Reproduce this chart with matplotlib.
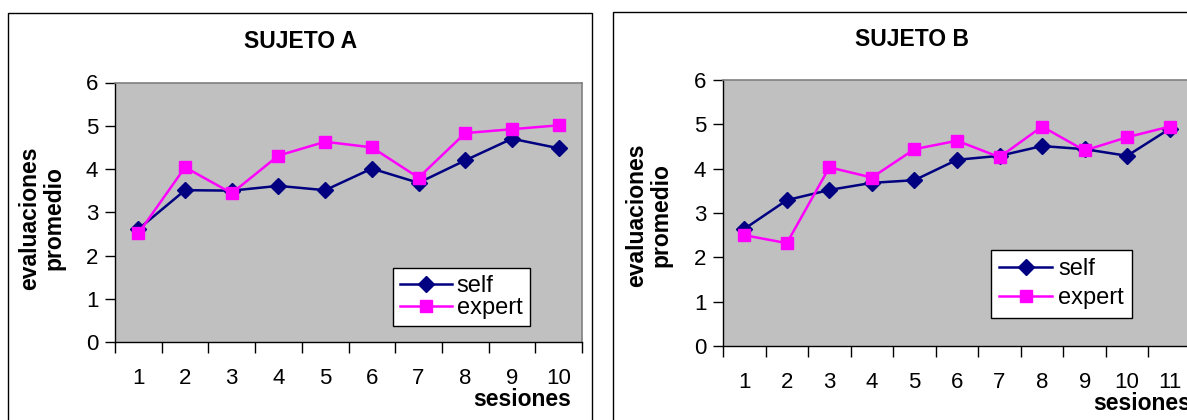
import matplotlib
matplotlib.use("Agg")
import matplotlib.pyplot as plt
from matplotlib.patches import Rectangle

plt.rcParams['font.family'] = ['Liberation Sans', 'DejaVu Sans']

# ---- data ----
sessions_a = [1, 2, 3, 4, 5, 6, 7, 8, 9, 10]
self_a = [2.61, 3.51, 3.50, 3.61, 3.51, 4.01, 3.68, 4.20, 4.70, 4.48]
expert_a = [2.51, 4.04, 3.44, 4.31, 4.63, 4.50, 3.80, 4.83, 4.92, 5.01]

sessions_b = [1, 2, 3, 4, 5, 6, 7, 8, 9, 10, 11]
self_b = [2.64, 3.29, 3.52, 3.68, 3.74, 4.20, 4.29, 4.51, 4.44, 4.29, 4.90]
expert_b = [2.50, 2.32, 4.03, 3.80, 4.44, 4.63, 4.26, 4.95, 4.41, 4.71, 4.95]

y_ticks = [0, 1, 2, 3, 4, 5, 6]
titles = ["SUJETO A", "SUJETO B"]
series_names = ["self", "expert"]
ylabel = "evaluaciones\npromedio"
xlabel = "sesiones"

W, H = 1187, 420
fig = plt.figure(figsize=(W / 100, H / 100), dpi=100)
fig.patch.set_facecolor('white')

def fx(px):
    return px / W

def fy(py):
    return 1 - py / H

# outer chart frames
fig.add_artist(Rectangle((fx(8), -0.1), fx(592) - fx(8), fy(13) + 0.1,
                         transform=fig.transFigure, fill=False,
                         edgecolor='black', lw=1.0))
fig.add_artist(Rectangle((fx(613), -0.1), 1.0, fy(12) + 0.1,
                         transform=fig.transFigure, fill=False,
                         edgecolor='black', lw=1.0))

TICK_FS = 16
LEG_FS = 17
BOLD_FS = 16.5

def style_axis(ax, n):
    ax.set_facecolor('#C0C0C0')
    ax.set_xlim(0.5, n + 0.5)
    ax.set_ylim(0, 6)
    ax.set_yticks(y_ticks)
    ax.set_yticklabels([str(v) for v in y_ticks], fontsize=TICK_FS)
    ax.set_xticks(range(1, n + 1))
    ax.set_xticklabels([str(i) for i in range(1, n + 1)], fontsize=TICK_FS)
    ax.set_xticks([i + 0.5 for i in range(0, n + 1)], minor=True)
    ax.tick_params(axis='x', which='major', length=0, pad=19)
    ax.tick_params(axis='x', which='minor', length=8, width=1, color='black',
                   direction='out')
    ax.tick_params(axis='y', which='major', length=7, width=1, color='black',
                   direction='out', pad=5)
    for s in ['left', 'bottom']:
        ax.spines[s].set_color('black')
        ax.spines[s].set_linewidth(1.0)
    for s in ['top', 'right']:
        ax.spines[s].set_color('#808080')
        ax.spines[s].set_linewidth(1.2)

def plot_series(ax, x, s, e):
    ax.plot(x, s, color='#000080', lw=1.8, marker='D', ms=8.5,
            markeredgecolor='#000080', label=series_names[0], clip_on=False, zorder=3)
    ax.plot(x, e, color='#FF00FF', lw=1.8, marker='s', ms=9,
            markeredgecolor='#FF00FF', label=series_names[1], clip_on=False, zorder=4)

# Chart A
axA = fig.add_axes([fx(115), fy(342), fx(582) - fx(115), fy(82.5) - fy(342)])
style_axis(axA, len(sessions_a))
plot_series(axA, sessions_a, self_a, expert_a)
legA = axA.legend(loc='upper left', bbox_to_anchor=(fx(393), fy(268)),
                  bbox_transform=fig.transFigure, fontsize=LEG_FS,
                  fancybox=False, framealpha=1, edgecolor='black',
                  borderpad=0.3, borderaxespad=0, handlelength=2.2,
                  handletextpad=0.2, labelspacing=0.0, numpoints=1)
legA.get_frame().set_linewidth(1.0)

# Chart B
axB = fig.add_axes([fx(723), fy(346), fx(1191) - fx(723), fy(80) - fy(346)])
style_axis(axB, len(sessions_b))
plot_series(axB, sessions_b, self_b, expert_b)
legB = axB.legend(loc='upper left', bbox_to_anchor=(fx(991), fy(250)),
                  bbox_transform=fig.transFigure, fontsize=LEG_FS,
                  fancybox=False, framealpha=1, edgecolor='black',
                  borderpad=0.35, borderaxespad=0, handlelength=2.25,
                  handletextpad=0.25, labelspacing=0.3, numpoints=1)
legB.get_frame().set_linewidth(1.0)

# titles and axis labels
fig.text(fx(301), fy(41), titles[0], ha='center', va='center',
         fontsize=BOLD_FS, fontweight='bold')
fig.text(fx(912), fy(40), titles[1], ha='center', va='center',
         fontsize=BOLD_FS, fontweight='bold')
fig.text(fx(42), fy(218), ylabel, rotation=90, ha='center', va='center',
         fontsize=BOLD_FS, fontweight='bold', multialignment='center',
         linespacing=1.1)
fig.text(fx(649), fy(215), ylabel, rotation=90, ha='center', va='center',
         fontsize=BOLD_FS, fontweight='bold', multialignment='center',
         linespacing=1.1)
fig.text(fx(522), fy(400), xlabel, ha='center', va='center',
         fontsize=BOLD_FS, fontweight='bold')
fig.text(fx(1093), fy(404), xlabel, ha='left', va='center',
         fontsize=BOLD_FS, fontweight='bold')

fig.savefig('out.png', dpi=100, facecolor='white')
